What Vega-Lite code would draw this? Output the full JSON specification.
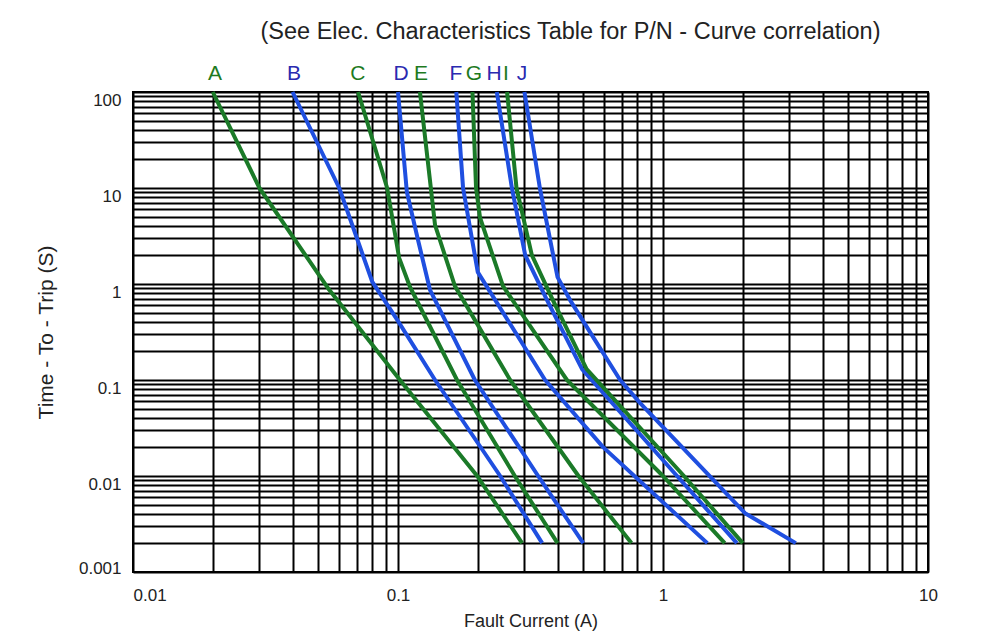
{
  "$schema": "https://vega.github.io/schema/vega-lite/v6.json",
  "width": 795,
  "height": 480,
  "autosize": {"type": "none"},
  "padding": {"left": 133, "top": 92, "right": 62, "bottom": 67},
  "background": "white",
  "title": {
    "text": "(See Elec. Characteristics Table for P/N - Curve correlation)",
    "fontSize": 23.5,
    "font": "Liberation Sans",
    "fontWeight": "normal",
    "color": "#222222",
    "anchor": "middle",
    "dx": 40,
    "offset": 20
  },
  "datasets": {
    "curves": [
      {"curve": "A", "current": 0.02, "time": 100},
      {"curve": "A", "current": 0.0245, "time": 31.6},
      {"curve": "A", "current": 0.03, "time": 10},
      {"curve": "A", "current": 0.055, "time": 0.87},
      {"curve": "A", "current": 0.1017, "time": 0.1},
      {"curve": "A", "current": 0.199, "time": 0.01},
      {"curve": "A", "current": 0.294, "time": 0.002},
      {"curve": "B", "current": 0.04, "time": 100},
      {"curve": "B", "current": 0.06, "time": 10},
      {"curve": "B", "current": 0.08, "time": 1.05},
      {"curve": "B", "current": 0.0995, "time": 0.42},
      {"curve": "B", "current": 0.138, "time": 0.1},
      {"curve": "B", "current": 0.243, "time": 0.01},
      {"curve": "B", "current": 0.35, "time": 0.002},
      {"curve": "C", "current": 0.0707, "time": 100},
      {"curve": "C", "current": 0.091, "time": 10},
      {"curve": "C", "current": 0.101, "time": 1.87},
      {"curve": "C", "current": 0.111, "time": 0.93},
      {"curve": "C", "current": 0.167, "time": 0.1},
      {"curve": "C", "current": 0.276, "time": 0.01},
      {"curve": "C", "current": 0.4, "time": 0.002},
      {"curve": "D", "current": 0.1, "time": 100},
      {"curve": "D", "current": 0.108, "time": 9.1},
      {"curve": "D", "current": 0.119, "time": 2.87},
      {"curve": "D", "current": 0.132, "time": 0.87},
      {"curve": "D", "current": 0.195, "time": 0.1},
      {"curve": "D", "current": 0.338, "time": 0.01},
      {"curve": "D", "current": 0.5, "time": 0.002},
      {"curve": "E", "current": 0.121, "time": 100},
      {"curve": "E", "current": 0.138, "time": 4.1},
      {"curve": "E", "current": 0.164, "time": 0.95},
      {"curve": "E", "current": 0.265, "time": 0.1},
      {"curve": "E", "current": 0.48, "time": 0.01},
      {"curve": "E", "current": 0.76, "time": 0.002},
      {"curve": "F", "current": 0.166, "time": 100},
      {"curve": "F", "current": 0.176, "time": 10},
      {"curve": "F", "current": 0.2, "time": 1.33},
      {"curve": "F", "current": 0.359, "time": 0.1},
      {"curve": "F", "current": 0.594, "time": 0.02},
      {"curve": "F", "current": 1.47, "time": 0.002},
      {"curve": "G", "current": 0.191, "time": 100},
      {"curve": "G", "current": 0.197, "time": 10},
      {"curve": "G", "current": 0.204, "time": 4.9},
      {"curve": "G", "current": 0.249, "time": 0.95},
      {"curve": "G", "current": 0.434, "time": 0.1},
      {"curve": "G", "current": 1.0, "time": 0.01},
      {"curve": "G", "current": 1.71, "time": 0.002},
      {"curve": "H", "current": 0.236, "time": 100},
      {"curve": "H", "current": 0.269, "time": 10},
      {"curve": "H", "current": 0.302, "time": 2.0},
      {"curve": "H", "current": 0.365, "time": 0.68},
      {"curve": "H", "current": 0.495, "time": 0.13},
      {"curve": "H", "current": 1.13, "time": 0.01},
      {"curve": "H", "current": 1.9, "time": 0.002},
      {"curve": "I", "current": 0.258, "time": 100},
      {"curve": "I", "current": 0.28, "time": 10},
      {"curve": "I", "current": 0.32, "time": 2.0},
      {"curve": "I", "current": 0.384, "time": 0.68},
      {"curve": "I", "current": 0.515, "time": 0.13},
      {"curve": "I", "current": 1.2, "time": 0.01},
      {"curve": "I", "current": 2.0, "time": 0.002},
      {"curve": "J", "current": 0.3, "time": 100},
      {"curve": "J", "current": 0.343, "time": 10},
      {"curve": "J", "current": 0.4, "time": 1.18},
      {"curve": "J", "current": 0.446, "time": 0.68},
      {"curve": "J", "current": 0.554, "time": 0.26},
      {"curve": "J", "current": 0.689, "time": 0.1},
      {"curve": "J", "current": 0.82, "time": 0.0575},
      {"curve": "J", "current": 2.04, "time": 0.0041},
      {"curve": "J", "current": 3.17, "time": 0.002}
    ],
    "labels": [
      {"curve": "A", "current": 0.0204, "time": 100},
      {"curve": "B", "current": 0.0405, "time": 100},
      {"curve": "C", "current": 0.0706, "time": 100},
      {"curve": "D", "current": 0.1026, "time": 100},
      {"curve": "E", "current": 0.1221, "time": 100},
      {"curve": "F", "current": 0.1655, "time": 100},
      {"curve": "G", "current": 0.1936, "time": 100},
      {"curve": "H", "current": 0.2303, "time": 100},
      {"curve": "I", "current": 0.2556, "time": 100},
      {"curve": "J", "current": 0.2938, "time": 100}
    ]
  },
  "layer": [
    {
      "data": {"name": "curves"},
      "mark": {"type": "line", "strokeWidth": 4, "strokeJoin": "round", "strokeCap": "butt"},
      "encoding": {
        "x": {
          "field": "current",
          "type": "quantitative",
          "scale": {"type": "log", "domain": [0.01, 10], "nice": false},
          "axis": {
            "title": "Fault Current (A)",
            "values": [0.01,0.02,0.03,0.04,0.05,0.06,0.07,0.08,0.09,0.1,0.2,0.3,0.4,0.5,0.6,0.7,0.8,0.9,1,2,3,4,5,6,7,8,9,10],
            "format": "~g",
            "labelExpr": "indexof([0.01,0.1,1,10], datum.value) >= 0 ? datum.label : ''",
            "labelFlush": false,
            "labelAlign": {"expr": "datum.value == 0.01 ? 'left' : 'center'"},
            "labelPadding": 15,
            "labelFontSize": 17,
            "titlePadding": 9,
            "titleFontSize": 18
          }
        },
        "y": {
          "field": "time",
          "type": "quantitative",
          "scale": {"type": "log", "domain": [0.001, 100], "nice": false},
          "axis": {
            "title": "Time - To - Trip (S)",
            "values": [0.001,0.002,0.003,0.004,0.005,0.006,0.007,0.008,0.009,0.01,0.02,0.03,0.04,0.05,0.06,0.07,0.08,0.09,0.1,0.2,0.3,0.4,0.5,0.6,0.7,0.8,0.9,1,2,3,4,5,6,7,8,9,10,20,30,40,50,60,70,80,90,100],
            "format": "~g",
            "labelExpr": "indexof([0.001,0.01,0.1,1,10,100], datum.value) >= 0 ? datum.label : ''",
            "labelFlush": false,
            "labelBaseline": "middle",
            "labelOffset": {"expr": "datum.value == 0.001 ? -4 : 8"},
            "labelPadding": 12,
            "labelFontSize": 17,
            "titlePadding": 22,
            "titleFontSize": 21
          }
        },
        "color": {
          "field": "curve",
          "type": "nominal",
          "scale": {
            "domain": ["A","B","C","D","E","F","G","H","I","J"],
            "range": ["#1b7a28","#1f4fe0","#1b7a28","#1f4fe0","#1b7a28","#1f4fe0","#1b7a28","#1f4fe0","#1b7a28","#1f4fe0"]
          },
          "legend": null
        }
      }
    },
    {
      "data": {"name": "labels"},
      "mark": {"type": "text", "fontSize": 21, "font": "Liberation Sans", "baseline": "alphabetic", "dy": -12},
      "encoding": {
        "x": {"field": "current", "type": "quantitative"},
        "y": {"field": "time", "type": "quantitative"},
        "text": {"field": "curve", "type": "nominal"},
        "color": {
          "field": "curve",
          "type": "nominal",
          "scale": {
            "domain": ["A","B","C","D","E","F","G","H","I","J"],
            "range": ["#1e7a1e","#2a2ab0","#1e7a1e","#2a2ab0","#1e7a1e","#2a2ab0","#1e7a1e","#2a2ab0","#1e7a1e","#2a2ab0"]
          },
          "legend": null
        }
      }
    }
  ],
  "resolve": {"scale": {"color": "independent"}},
  "config": {
    "font": "Liberation Sans",
    "view": {"stroke": "#000000", "strokeWidth": 2},
    "axis": {
      "grid": true,
      "gridColor": "#000000",
      "gridWidth": 2,
      "gridOpacity": 1,
      "ticks": false,
      "domain": false,
      "labelFont": "Liberation Sans",
      "labelColor": "#222222",
      "titleFont": "Liberation Sans",
      "titleFontWeight": "normal",
      "titleColor": "#222222"
    }
  }
}
